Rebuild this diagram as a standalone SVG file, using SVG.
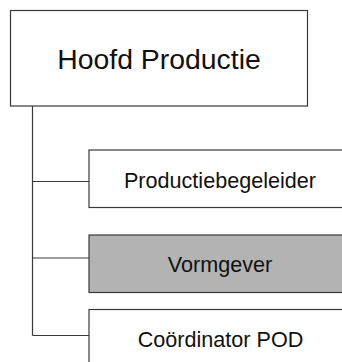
<svg xmlns="http://www.w3.org/2000/svg" width="342" height="362" viewBox="0 0 342 362">
  <style>
    .box { fill: #ffffff; stroke: #3a3a3a; stroke-width: 1.2; }
    .box.shaded { fill: #b3b3b3; }
    .label { font-family: "Liberation Sans", Arial, sans-serif; fill: #111111; text-anchor: middle; }
    .head { font-size: 28.4px; }
    .sub { font-size: 21.6px; }
    .wire { fill: none; stroke: #3a3a3a; stroke-width: 1.2; }
  </style>
  <rect width="342" height="362" fill="#ffffff"/>

  <!-- connectors: trunk with three branches -->
  <g id="connectors">
    <path class="wire" d="M32.5 106 V335.5"/>
    <path class="wire" d="M32.5 181.5 H89"/>
    <path class="wire" d="M32.5 258 H89"/>
    <path class="wire" d="M32.5 335.5 H89"/>
  </g>

  <g id="hoofd-productie">
    <rect class="box" x="10.5" y="10.5" width="297" height="95.5"/>
    <text class="label head" x="159" y="69">Hoofd Productie</text>
  </g>

  <g id="productiebegeleider">
    <rect class="box" x="89" y="150" width="262" height="57.5"/>
    <text class="label sub" x="220" y="187.5">Productiebegeleider</text>
  </g>

  <g id="vormgever">
    <rect class="box shaded" x="89" y="235" width="262" height="57.5"/>
    <text class="label sub" x="220" y="271.5">Vormgever</text>
  </g>

  <g id="coordinator-pod">
    <rect class="box" x="89" y="309.5" width="262" height="57.5"/>
    <text class="label sub" x="220.5" y="346.5">Coördinator POD</text>
  </g>
</svg>
